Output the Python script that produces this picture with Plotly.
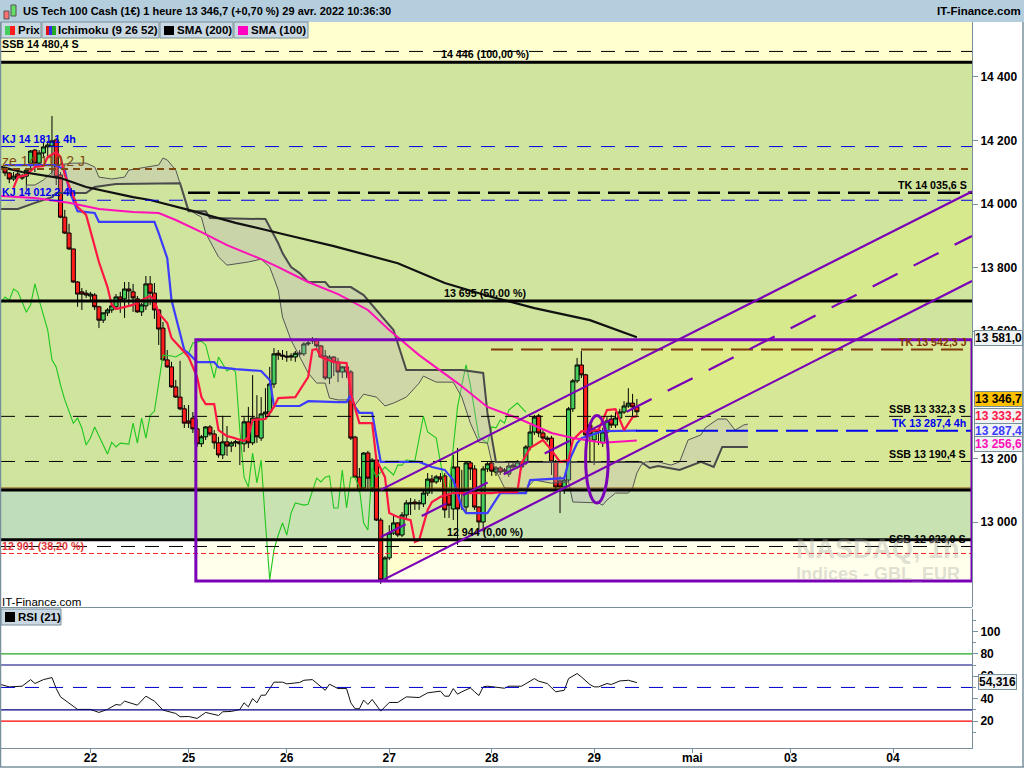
import plotly.graph_objects as go

# ---------- data (hourly bars, x = bar number) ----------
opens = [14114,14098,14079,14095,14082,14088,14129,14170,14129,14161,
 14180,14183,14202,14092,13959,13909,13859,13755,13724,13720,
 13711,13714,13677,13635,13658,13667,13677,13708,13702,13733,
 13724,13702,13661,13680,13749,13720,13667,13610,13510,13488,
 13425,13393,13356,13318,13327,13293,13246,13268,13299,13277,
 13249,13211,13252,13239,13249,13252,13246,13315,13249,13327,
 13264,13340,13346,13434,13531,13525,13522,13519,13519,13528,
 13529,13560,13573,13573,13554,13522,13453,13519,13503,13472,
 13488,13472,13267,13141,13107,13217,13107,13195,13006,12818,
 12887,12965,12997,12959,13022,13057,13063,13057,13057,13091,
 13135,13126,13142,13145,13085,13041,13173,13101,13047,13186,
 13167,13047,13000,13167,13186,13157,13170,13164,13151,13179,
 13173,13186,13186,13236,13283,13334,13280,13264,13264,13189,
 13129,13110,13132,13356,13444,13494,13463,13305,13258,13289,
 13249,13283,13324,13305,13327,13346,13365,13374,13362]
closes = [14098,14079,14088,14085,14088,14107,14167,14129,14161,14180,
 14186,14199,14085,13959,13909,13859,13755,13717,13717,13714,
 13717,13677,13635,13658,13667,13680,13708,13698,13733,13727,
 13705,13661,13683,13749,13720,13667,13607,13510,13488,13425,
 13393,13356,13311,13311,13293,13246,13268,13299,13277,13249,
 13211,13252,13239,13249,13252,13246,13315,13249,13327,13268,
 13340,13346,13434,13529,13525,13522,13519,13522,13531,13531,
 13560,13563,13570,13554,13519,13453,13519,13503,13472,13488,
 13472,13264,13141,13101,13217,13138,13195,13006,12818,12887,
 12965,12997,12959,13022,13060,13060,13057,13060,13091,13135,
 13126,13142,13135,13038,13053,13173,13041,13091,13186,13167,
 13047,13000,13167,13183,13160,13170,13157,13160,13176,13173,
 13189,13173,13236,13283,13330,13280,13264,13261,13189,13110,
 13110,13132,13356,13444,13494,13463,13274,13274,13289,13283,
 13283,13318,13305,13327,13346,13365,13374,13362,13346.7]
highs = [14117,14101,14101,14101,14095,14114,14170,14173,14170,14192,
 14199,14277,14208,14101,13982,13938,13859,13758,13736,13730,
 13724,13720,13680,13658,13673,13689,13717,13724,13755,13755,
 13749,13711,13689,13774,13774,13752,13670,13629,13541,13504,
 13447,13507,13368,13368,13346,13324,13274,13302,13305,13289,
 13268,13334,13302,13255,13258,13258,13330,13362,13462,13399,
 13393,13421,13488,13547,13541,13541,13538,13531,13538,13541,
 13566,13576,13582,13579,13557,13541,13525,13522,13516,13491,
 13491,13478,13271,13170,13220,13224,13201,13201,13013,12893,
 12990,13022,13000,13031,13069,13075,13072,13069,13098,13154,
 13148,13148,13154,13154,13101,13211,13233,13164,13189,13189,
 13179,13050,13176,13189,13192,13176,13176,13170,13186,13186,
 13195,13192,13242,13305,13337,13340,13289,13271,13271,13195,
 13145,13138,13362,13450,13516,13538,13466,13311,13296,13296,
 13296,13330,13337,13346,13356,13380,13421,13403,13387]
lows = [14088,14066,14073,14079,14076,14044,14107,14101,14117,14145,
 14151,14092,14060,13956,13906,13856,13752,13677,13667,13705,
 13698,13667,13610,13626,13648,13658,13667,13658,13642,13683,
 13661,13658,13648,13667,13683,13639,13557,13507,13485,13422,
 13390,13352,13296,13296,13280,13236,13236,13258,13271,13230,
 13202,13198,13208,13220,13236,13179,13220,13233,13242,13249,
 13255,13327,13334,13422,13510,13510,13504,13507,13504,13519,
 13522,13554,13560,13548,13516,13447,13434,13459,13440,13453,
 13453,13258,13138,13094,13101,13101,13094,13003,12805,12811,
 12880,12959,12953,12953,13006,13022,13038,13038,13047,13082,
 13088,13120,13126,13013,13013,13006,12928,13038,13031,13132,
 13038,12975,12969,13157,13145,13145,13148,13154,13142,13167,
 13167,13164,13179,13226,13274,13267,13258,13252,13148,13101,
 13028,13088,13126,13346,13437,13453,13267,13186,13179,13242,
 13236,13277,13296,13296,13318,13340,13359,13327,13334]

tenkan_x = [2,3,5,7,9,10,12,13,14,17,19,20,22,24,25,26,29,30,33,34,35,36,38,39,42,43,45,46,47,49,50,52,53,56,57,58,61,63,64,68,71,72,73,74,77,80,81,83,86,87,89,90,92,95,96,97,99,100,102,105,107,114,116,120,121,123,126,128,130,132,133,135,139,141,143,145,147,148]
tenkan_y = [14051,14085,14092,14117,14120,14148,14164,14148,14092,13991,13966,13919,13818,13739,13683,13670,13680,13683,13705,13711,13698,13657,13626,13579,13535,13519,13456,13393,13371,13371,13289,13270,13267,13255,13267,13321,13324,13362,13390,13393,13456,13541,13544,13519,13503,13500,13406,13311,13311,13195,13141,13028,13016,13006,12937,12943,13038,13063,13079,13091,13091,13091,13094,13094,13186,13233,13258,13226,13189,13195,13258,13285,13289,13352,13355,13289,13330,13333.2]
kijun_x = [0,12,14,15,17,21,22,35,36,38,39,42,43,45,49,50,54,60,62,63,69,71,78,80,81,82,83,86,88,97,100,103,105,107,108,113,116,122,123,131,132,134,135,140,148]
kijun_y = [14123,14123,14107,14044,13978,13972,13944,13944,13909,13830,13698,13541,13531,13503,13503,13487,13481,13475,13447,13365,13365,13380,13377,13377,13399,13362,13343,13343,13189,13189,13173,13164,13132,13047,13028,13028,13091,13091,13132,13138,13189,13248,13264,13286,13287.4]
chikou_x = [-1,0,1,2,3,5,6,7,8,10,11,12,13,14,16,17,18,19,20,21,24,25,26,27,29,30,31,32,33,34,35,36,37,39,40,42,43,44,46,47,48,49,50,52,53,54,55,56,57,58,59,60,61,62,63,64,65,66,67,68,70,71,73,74,75,76,77,78,79,80,81,82,83,84,85,86,87,89,91,92,93,94,96,98,99,101,103,104,105,106,107,108,109,111,113,114,115,116,117,118,120,122]
chikou_y = [13689,13708,13698,13733,13724,13660,13683,13749,13698,13604,13510,13487,13431,13384,13311,13327,13296,13242,13264,13299,13214,13251,13236,13248,13245,13311,13248,13327,13264,13336,13349,13440,13525,13522,13519,13535,13531,13563,13569,13557,13509,13453,13519,13475,13484,13472,13289,13141,13110,13217,13123,13195,12997,12818,12912,12959,12997,12959,13028,13060,13053,13056,13138,13126,13141,13145,13044,13044,13163,13044,13141,13141,13107,12997,12975,13170,13141,13173,13148,13179,13179,13195,13192,13333,13283,13264,13110,13094,13236,13362,13431,13494,13431,13267,13248,13299,13296,13321,13311,13352,13374,13346]
span_a_x = [5,7,9,11,12,16,19,21,22,25,28,29,32,36,37,38,40,43,46,47,50,52,57,60,62,64,65,67,71,73,75,76,78,81,82,84,87,89,91,94,97,98,101,105,107,109,111,113,114,116,117,122,124,128,132,133,139,140,141,143,146,147,148,149,150,153,156,158,160,163,164,167,169,171,173,174]
span_a_y = [14060,14060,14076,14101,14123,14129,14129,14117,14085,14079,14085,14107,14114,14123,14145,14139,14107,13982,13959,13909,13834,13808,13818,13827,13802,13730,13645,13572,13469,13437,13437,13390,13384,13384,13368,13402,13393,13365,13374,13393,13437,13459,13440,13440,13393,13311,13251,13248,13189,13132,13107,13104,13132,13122,13126,13063,13060,13053,13069,13091,13091,13107,13154,13179,13189,13189,13179,13189,13258,13274,13296,13324,13324,13289,13305,13308]
span_b_x = [-1,3,7,11,12,19,21,26,41,42,43,47,48,61,63,64,65,67,69,71,75,76,81,84,89,91,94,107,112,113,115,149,151,153,158,163,166,168,174]
span_b_y = [13985,13985,14004,14022,14035,14035,14054,14063,14066,14022,13978,13978,13956,13953,13902,13877,13846,13802,13783,13755,13755,13739,13739,13714,13635,13604,13478,13478,13469,13343,13189,13189,13170,13176,13164,13189,13173,13236,13236]
sma200_x = [-1,4,13,19,30,34,43,54,66,77,92,103,114,124,137,148]
sma200_y = [14117,14101,14082,14054,14022,14013,13982,13941,13903,13868,13814,13752,13708,13673,13635,13581]
sma100_x = [-1,7,15,22,30,36,40,46,52,60,64,71,78,85,90,97,106,113,120,128,133,140,148]
sma100_y = [14026,14019,14004,13985,13975,13972,13950,13912,13871,13827,13802,13755,13717,13667,13604,13525,13437,13362,13327,13280,13264,13249,13256.6]
rsi_x = [-1,1,4,6,7,9,11,12,13,17,20,22,24,26,27,28,31,33,35,37,40,41,43,45,47,50,51,53,55,56,57,58,59,60,61,63,65,66,69,70,72,73,75,76,78,80,81,82,83,84,85,86,88,90,92,94,97,99,102,103,104,105,106,107,109,110,111,112,113,117,118,121,124,125,127,129,131,132,134,135,137,138,139,141,142,144,146,148]
rsi_y = [52.6,50.5,51.1,57.0,53.5,57.0,58.8,49.0,41.6,30.4,30.4,27.7,30.4,34.8,34.2,37.8,34.2,42.2,37.8,29.8,26.8,23.9,24.1,22.4,27.7,25.0,28.3,28.6,30.4,36.3,32.7,40.1,36.3,43.1,43.1,54.7,54.7,53.2,54.4,56.4,57.0,54.1,47.5,52.9,49.0,49.0,36.3,31.0,31.0,38.7,34.8,39.3,28.9,36.6,36.6,41.6,41.0,45.2,46.7,42.2,42.2,49.0,44.0,46.1,49.6,46.1,42.8,50.5,51.1,49.3,51.1,51.1,57.9,55.6,53.5,46.1,47.5,57.9,62.4,59.4,52.6,50.5,50.5,53.5,52.6,55.8,56.4,54.316]

day_ticks = [20,43,66,90,114,138,161,184,208]
day_labels = ["22","25","26","27","28","29","mai","03","04"]
price_ticks = [14400,14200,14000,13800,13600,13200,13000]
price_labels = ["14 400","14 200","14 000","13 800","13 600","13 200","13 000"]
rsi_ticks = [100,80,60,40,20]

fib_levels = [14446, 13695, 13101, 12944]
ssb_levels = [14480.4, 13332.3, 13190.4, 12923.0]
kj_levels = [14181.1, 14012.2]
fib_red = 12901
ze_level = 14110.2
tk_week = 14035.6
tk_day = 13542.3
tk_4h = 13287.4
box_top, box_bottom = 13573, 12814
channel_top = (13101, 14040)
channel_mid = (12953, 13900)
channel_low = (12814, 13758)
channel_x = (88, 226.5)

# ---------- layout helpers (window pixels -> paper) ----------
L, R, T, B = 1, 972, 22, 748
def px(x): return (x - L) / (R - L)
def py(y): return (B - y) / (B - T)
XRANGE = [-0.94, 226.5]
FONT = "Liberation Sans"
PURPLE = "#7a00b8"
GREY = "#78909c"

fig = go.Figure()
common = dict(mode="lines", hoverinfo="skip", showlegend=False)
fig.add_trace(go.Candlestick(x=list(range(len(opens))), open=opens, high=highs, low=lows, close=closes,
    increasing=dict(fillcolor="#44cf5c", line=dict(color="#000000", width=1)),
    decreasing=dict(fillcolor="#ff1c1c", line=dict(color="#000000", width=1)),
    whiskerwidth=0, showlegend=False, hoverinfo="skip"))
fig.add_trace(go.Scatter(x=chikou_x, y=chikou_y, line=dict(color="#1fc71f", width=1.1), **common))
fig.add_trace(go.Scatter(x=span_b_x, y=span_b_y, line=dict(color="#4a4a4a", width=2), **common))
fig.add_trace(go.Scatter(x=span_a_x, y=span_a_y, line=dict(color="#555555", width=1), fill="tonexty",
                         fillcolor="rgba(190,175,200,0.3)", **common))
fig.add_trace(go.Scatter(x=kijun_x, y=kijun_y, line=dict(color="#3c3cff", width=2.2), **common))
fig.add_trace(go.Scatter(x=tenkan_x, y=tenkan_y, line=dict(color="#ff1744", width=2.2), **common))
fig.add_trace(go.Scatter(x=sma200_x, y=sma200_y, line=dict(color="#111111", width=2.2), **common))
fig.add_trace(go.Scatter(x=sma100_x, y=sma100_y, line=dict(color="#ff10b8", width=2), **common))
fig.add_trace(go.Scatter(x=rsi_x, y=rsi_y, xaxis="x", yaxis="y2", line=dict(color="#111111", width=1), **common))

shapes = []
def band(y0, y1, color):
    shapes.append(dict(type="rect", xref="x domain", x0=0, x1=1, yref="y", y0=y0, y1=y1,
                       fillcolor=color, line_width=0, layer="below"))
band(14446, 14573, "#ffffcf")
band(13101, 14446, "#cfe49d")
band(12944, 13101, "#c0ddbb")
def hline(y, color, width, dash="solid", x0=0, yref="y", layer="above"):
    shapes.append(dict(type="line", xref="x domain", x0=x0, x1=1, yref=yref, y0=y, y1=y,
                       line=dict(color=color, width=width, dash=dash), layer=layer))
# yellow tint of the box and of the channel
shapes.append(dict(type="rect", x0=44.7, x1=226.5, y0=box_bottom, y1=box_top, xref="x", yref="y",
                   fillcolor="rgba(255,255,120,0.15)", line_width=0, layer="below"))
shapes.append(dict(type="path", xref="x", yref="y", layer="below", line_width=0, fillcolor="rgba(255,255,70,0.18)",
    path=f"M {channel_x[0]} {channel_low[0]} L {channel_x[1]} {channel_low[1]} L {channel_x[1]} {channel_top[1]} L {channel_x[0]} {channel_top[0]} Z"))
hline(fib_levels[0], "#000000", 3)
hline(fib_levels[1], "#000000", 3)
hline(fib_levels[2] + 6, "#8a4b08", 1.2)
hline(fib_levels[2], "#000000", 3)
hline(fib_levels[3], "#000000", 3)
for v in ssb_levels:
    hline(v, "#000000", 1, "14px,10px")
for v in kj_levels:
    hline(v, "#0000ee", 1, "14px,10px")
hline(fib_red, "#ff2020", 1, "5px,3px")
hline(ze_level, "#7f4a10", 2, "7px,5px")
hline(tk_week, "#000000", 2.5, "22px,8px", x0=px(188))
hline(tk_day, "#7f3a06", 2, "22px,8px", x0=px(491))
hline(tk_4h, "#0000ee", 2, "22px,8px", x0=px(636))
# purple drawings
shapes.append(dict(type="rect", x0=44.7, x1=226.5, y0=box_bottom, y1=box_top, xref="x", yref="y",
                   line=dict(color=PURPLE, width=3), layer="above"))
for ln, d in ((channel_top, "solid"), (channel_low, "solid"), (channel_mid, "28px,18px")):
    shapes.append(dict(type="line", xref="x", yref="y", x0=channel_x[0], x1=channel_x[1], y0=ln[0], y1=ln[1],
                       line=dict(color=PURPLE, width=2.2, dash=d), layer="above"))
shapes.append(dict(type="circle", xref="x", yref="y", x0=136, x1=141.3, y0=13060, y1=13335,
                   line=dict(color=PURPLE, width=3), layer="above"))
# RSI levels
hline(80, "#22aa22", 1.2, yref="y2")
hline(70, "#000080", 1.2, yref="y2")
hline(50, "#0000cc", 1, "14px,10px", yref="y2")
hline(30, "#000080", 1.2, yref="y2")
hline(20, "#ff0000", 1.2, yref="y2")
# window chrome
def box(x0, y0, x1, y1, fill, line=None, w=1):
    shapes.append(dict(type="rect", xref="paper", yref="paper", x0=px(x0), x1=px(x1), y0=py(y1), y1=py(y0),
                       fillcolor=fill, line=dict(color=line or "rgba(0,0,0,0)", width=w), layer="above"))
box(-1, 0, 1025, 22, "#b5cede", None)
for a, b in ((1, 41), (42, 159), (160, 233), (234, 308)):
    box(a, 22, b, 38, "#c9d8e2", GREY)
box(5, 26, 10, 35, "#44cf5c"); box(10, 26, 15, 35, "#ff1c1c")
box(46, 26, 49, 35, "#e01010"); box(49, 26, 52, 35, "#3030ee"); box(52, 26, 56, 35, "#22aa22")
box(164, 26, 174, 35, "#000000"); box(238, 26, 248, 35, "#ff00c0")
box(1, 609, 61, 625, "#c9d8e2", GREY)
box(5, 612, 15, 622, "#000000")
box(4, 11, 9, 19, "#ff7070", "#555555"); box(11, 5, 16, 16, "#66dd66", "#555555")
shapes.append(dict(type="line", xref="paper", yref="paper", x0=px(0), x1=px(972), y0=py(607.5), y1=py(607.5),
                   line=dict(color=GREY, width=1), layer="above"))
shapes.append(dict(type="line", xref="paper", yref="paper", x0=px(0.5), x1=px(0.5), y0=py(767), y1=py(22),
                   line=dict(color=GREY, width=1.5), layer="above"))
shapes.append(dict(type="line", xref="paper", yref="paper", x0=px(0), x1=px(1024), y0=py(767), y1=py(767),
                   line=dict(color=GREY, width=1.5), layer="above"))
shapes.append(dict(type="line", xref="paper", yref="paper", x0=px(1023), x1=px(1023), y0=py(767), y1=py(22),
                   line=dict(color=GREY, width=1.5), layer="above"))

ann = []
def text(x, y, s, color="#000000", size=10.7, anchor="left", bold=True, bg=None, border=None):
    ann.append(dict(xref="paper", yref="paper", x=px(x), y=py(y), text=s, showarrow=False, xanchor=anchor, yanchor="middle",
                    font=dict(family=FONT, size=size, color=color, weight=700 if bold else 400),
                    bgcolor=bg, bordercolor=border, borderwidth=1 if border else 0, borderpad=0))
text(23, 11.5, "US Tech 100 Cash (1€) 1 heure 13 346,7 (+0,70 %) 29 avr. 2022 10:36:30", size=11)
text(1021, 11.5, "IT-Finance.com", anchor="right", size=11.5)
text(17.5, 30, "Prix", size=11.5); text(58, 30, "Ichimoku (9 26 52)", size=11.5)
text(177, 30, "SMA (200)", size=11.5); text(251, 30, "SMA (100)", size=11.5)
text(18, 617, "RSI (21)", size=11.5)
text(2, 44, "SSB 14 480,4 S")
text(2, 139, "KJ 14 181,1 4h", color="#0000ee")
text(2, 161, "ze 14 110,2 J", color="#7f4a10", size=14, bold=False)
text(2, 192, "KJ 14 012,2 4h", color="#0000ee")
text(2, 546, "12 901 (38,20 %)", color="#e03838")
text(2, 602, "IT-Finance.com", bold=False, size=11.5)
text(485, 54, "14 446 (100,00 %)", anchor="center")
text(485, 293, "13 695 (50,00 %)", anchor="center")
text(485, 532, "12 944 (0,00 %)", anchor="center")
text(967, 185, "TK 14 035,6 S", anchor="right")
text(967, 342, "TK 13 542,3 J", color="#7f3a06", anchor="right")
text(966, 409, "SSB 13 332,3 S", anchor="right")
text(966, 423, "TK 13 287,4 4h", color="#0000ee", anchor="right")
text(966, 454, "SSB 13 190,4 S", anchor="right")
text(966, 539, "SSB 12 923,0 S", anchor="right")
text(960, 549, "NASDAQ, 1h", color="rgba(170,170,170,0.38)", size=27, anchor="right")
text(960, 574, "Indices - GBL_EUR", color="rgba(170,170,170,0.38)", size=18, anchor="right")
for y, s, c, bg in ((338, "13 581,0", "#000000", "#f0f2f4"), (398.5, "13 346,7", "#000000", "#ffc000"),
                    (416, "13 333,2", "#ff1744", "#f0f2f4"), (431, "13 287,4", "#3c3cff", "#f0f2f4"),
                    (443.5, "13 256,6", "#ff10b8", "#f0f2f4")):
    text(998.5, y, s, color=c, anchor="center", size=12, bg=bg, border=GREY)
text(998, 682, "54,316", anchor="center", size=12, bg="#f0f2f4", border=GREY)

fig.update_layout(
    width=1024, height=768, autosize=False, boxgap=0.05, boxgroupgap=0,
    margin=dict(l=L, r=1024 - R, t=T, b=768 - B, pad=0),
    paper_bgcolor="#ffffff", plot_bgcolor="#ffffff", showlegend=False,
    shapes=shapes, annotations=ann,
    xaxis=dict(range=XRANGE, type="linear", rangeslider=dict(visible=False), tickmode="array", tickvals=day_ticks, ticktext=day_labels,
               ticks="outside", ticklen=4, tickcolor=GREY, showgrid=False, zeroline=False, anchor="y2", automargin=False,
               showline=True, linecolor=GREY, linewidth=1, ticklabelstandoff=-5,
               tickfont=dict(family=FONT, size=12, color="#000000", weight=700)),
    yaxis=dict(domain=[py(607), 1], range=[14642.2 - 3.146 * 607, 14642.2 - 3.146 * 22], side="right", anchor="x",
               tickmode="array", tickvals=price_ticks, ticktext=price_labels, ticks="outside", ticklen=5, tickcolor=GREY,
               showgrid=False, zeroline=False, showline=True, linecolor=GREY, linewidth=1, automargin=False,
               tickfont=dict(family=FONT, size=12, color="#000000", weight=700)),
    yaxis2=dict(domain=[0, py(608.5)], range=[-4, 120.4], side="right", anchor="x", automargin=False,
                tickmode="array", tickvals=rsi_ticks, ticks="outside", ticklen=5, tickcolor=GREY,
                showgrid=False, zeroline=False, showline=True, linecolor=GREY, linewidth=1,
                tickfont=dict(family=FONT, size=12, color="#000000", weight=700),
                minor=dict(tickmode="array", tickvals=[110, 90, 70, 50, 30, 10], ticks="outside", ticklen=3, tickcolor=GREY)),
)
fig.write_html("out.html", post_script="document.body.style.margin='0';document.documentElement.style.overflow='hidden';",
               config=dict(displayModeBar=False))
